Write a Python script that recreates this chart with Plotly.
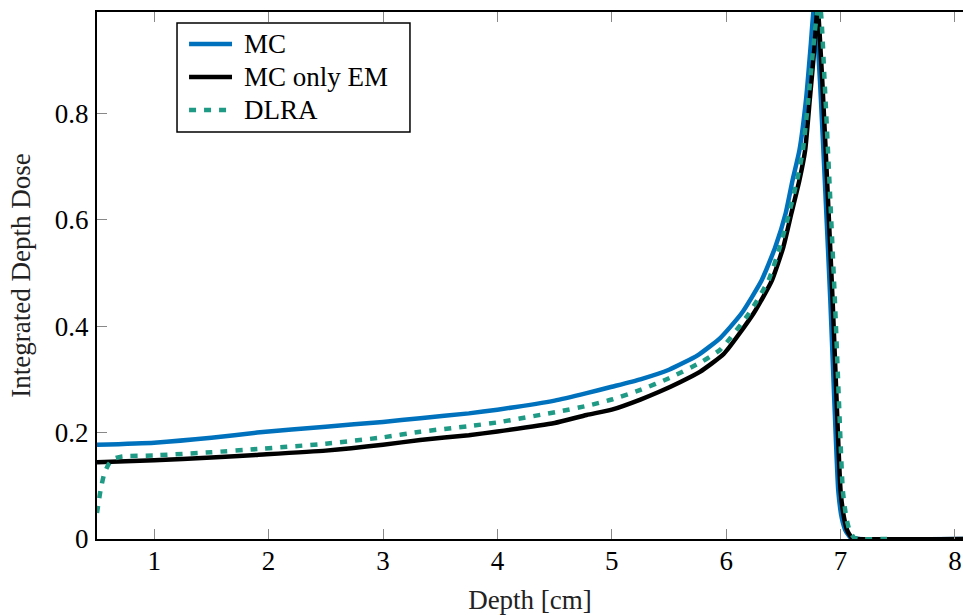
import plotly.graph_objects as go

# MC (blue)
mc_x = [0.5, 1.0, 1.5, 1.9, 2.5, 3.0, 3.325, 3.75, 4.0, 4.5, 4.78, 5.0, 5.25, 5.5, 5.75, 5.95,
        6.135, 6.31, 6.43, 6.52, 6.58, 6.64, 6.70, 6.74, 6.765, 6.775, 6.82, 6.87, 6.91, 6.945,
        6.98, 7.01, 7.045, 7.09, 7.15, 8.07]
mc_y = [0.177, 0.181, 0.190, 0.200, 0.211, 0.220, 0.227, 0.236, 0.243, 0.260, 0.274, 0.286, 0.300, 0.318,
        0.345, 0.378, 0.424, 0.486, 0.549, 0.612, 0.674, 0.730, 0.830, 0.930, 0.995, 1.0,
        0.86, 0.637, 0.449, 0.261, 0.09, 0.04, 0.015, 0.002, 0.0, 0.0]

# MC only EM (black)
em_x = [0.5, 1.0, 1.5, 1.9, 2.5, 3.0, 3.325, 3.75, 4.0, 4.5, 4.78, 5.0, 5.25, 5.42, 5.6, 5.77, 5.98,
        6.24, 6.40, 6.50, 6.57, 6.64, 6.69, 6.73, 6.77, 6.795, 6.80, 6.84, 6.89, 6.93, 6.965,
        7.0, 7.03, 7.06, 7.1, 7.15, 8.07]
em_y = [0.144, 0.148, 0.153, 0.158, 0.166, 0.177, 0.186, 0.195, 0.202, 0.218, 0.233, 0.243, 0.262, 0.277,
        0.295, 0.314, 0.348, 0.424, 0.486, 0.549, 0.612, 0.674, 0.730, 0.824, 0.920, 0.995, 1.0,
        0.86, 0.637, 0.449, 0.261, 0.09, 0.04, 0.015, 0.002, 0.0, 0.0]

# DLRA (teal, dashed)
dl_x = [0.5, 0.53, 0.56, 0.6, 0.65, 0.72, 1.0, 1.5, 1.9, 2.5, 3.0, 3.325, 3.75, 4.0, 4.55, 4.78, 5.0,
        5.25, 5.5, 5.77, 5.95, 6.2, 6.37, 6.47, 6.55, 6.62, 6.67, 6.72, 6.76, 6.80, 6.82, 6.86, 6.91,
        6.95, 6.985, 7.02, 7.05, 7.08, 7.12, 7.17, 7.46]
dl_y = [0.049, 0.09, 0.12, 0.14, 0.151, 0.155, 0.157, 0.163, 0.169, 0.179, 0.191, 0.2015, 0.212, 0.219,
        0.240, 0.250, 0.262, 0.280, 0.302, 0.331, 0.356, 0.424, 0.486, 0.549, 0.612, 0.674, 0.730, 0.830,
        0.920, 0.995, 1.0, 0.86, 0.637, 0.449, 0.261, 0.09, 0.04, 0.015, 0.002, 0.0, 0.0]

x_ticks = [1, 2, 3, 4, 5, 6, 7, 8]
y_ticks = [0, 0.2, 0.4, 0.6, 0.8]
y_labels = ["0", "0.2", "0.4", "0.6", "0.8"]

series_names = ["MC", "MC only EM", "DLRA"]
series_colors = ["#0072BD", "#000000", "#1F9A85"]
series_dash = ["solid", "solid", "7px,8px"]

FONT = "Liberation Serif, Tinos, Times New Roman, DejaVu Serif, serif"

fig = go.Figure()
for xs, ys, name, col, dash in zip([mc_x, em_x, dl_x], [mc_y, em_y, dl_y],
                                   series_names, series_colors, series_dash):
    fig.add_trace(go.Scatter(x=xs, y=ys, mode="lines", name=name, showlegend=False,
                             line=dict(color=col, width=4.5, dash=dash, shape="spline", smoothing=0.5)))

axis_common = dict(showgrid=False, zeroline=False, showline=True, linecolor="black", linewidth=2,
                   ticks="inside", ticklen=10, tickcolor="#888888", tickwidth=1, automargin=False,
                   tickfont=dict(family=FONT, size=27, color="black"))

# Legend box (drawn in paper coordinates)
L_X0, L_X1, L_Y0, L_Y1 = 0.0924, 0.3614, 0.7723, 0.9791
ROW_Y = [0.9393, 0.8767, 0.8140]
SAMPLE_X0, SAMPLE_X1, TEXT_X = 0.1063, 0.1559, 0.1674

shapes = [dict(type="rect", xref="paper", yref="paper", x0=L_X0, x1=L_X1, y0=L_Y0, y1=L_Y1,
               line=dict(color="black", width=1.5), fillcolor="white", layer="above")]
annotations = []
for ry, name, col, dash in zip(ROW_Y, series_names, series_colors, series_dash):
    shapes.append(dict(type="line", xref="paper", yref="paper", x0=SAMPLE_X0, x1=SAMPLE_X1, y0=ry, y1=ry,
                       line=dict(color=col, width=4.5, dash=dash), layer="above"))
    annotations.append(dict(xref="paper", yref="paper", x=TEXT_X, y=ry, xanchor="left", yanchor="middle",
                            text=name, showarrow=False, font=dict(family=FONT, size=27, color="black")))

fig.update_layout(
    width=963, height=615,
    margin=dict(l=97, r=0, t=12, b=76),
    plot_bgcolor="white", paper_bgcolor="white",
    font=dict(family=FONT, size=27, color="black"),
    xaxis=dict(range=[0.5, 8.07], tickvals=x_ticks, mirror="ticks", ticklabelstandoff=-3,
               title=dict(text="Depth [cm]", font=dict(family=FONT, size=27, color="#222"), standoff=18),
               **axis_common),
    yaxis=dict(range=[0, 0.99], tickvals=y_ticks, ticktext=y_labels, ticklabelstandoff=1,
               title=dict(text="Integrated Depth Dose", font=dict(family=FONT, size=27, color="#222"), standoff=16),
               **axis_common),
    shapes=shapes,
    annotations=annotations,
    showlegend=False,
)

fig.write_html("out.html")
